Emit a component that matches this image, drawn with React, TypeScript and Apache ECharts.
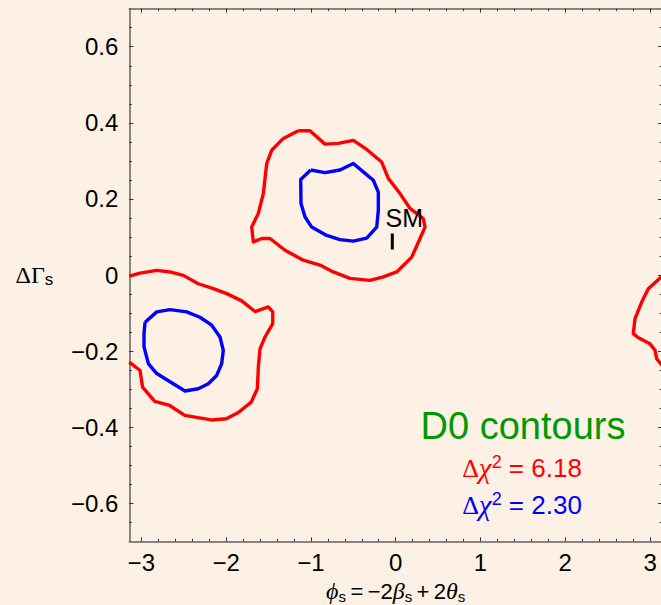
import React, { useEffect, useRef } from "react";
import * as echarts from "echarts";

// axis ranges and ticks
const xRange = [-Math.PI, Math.PI];
const yRange = [-0.7, 0.7];
const xMajorTicks = [-3, -2, -1, 0, 1, 2, 3];
const xMinorTicks = [
  -3, -2.8, -2.6, -2.4, -2.2, -2, -1.8, -1.6, -1.4, -1.2, -1, -0.8, -0.6, -0.4, -0.2, 0,
  0.2, 0.4, 0.6, 0.8, 1, 1.2, 1.4, 1.6, 1.8, 2, 2.2, 2.4, 2.6, 2.8, 3,
];
const yMajorTicks = [-0.6, -0.4, -0.2, 0, 0.2, 0.4, 0.6];
const yMinorTicks = [
  -0.65, -0.6, -0.55, -0.5, -0.45, -0.4, -0.35, -0.3, -0.25, -0.2, -0.15, -0.1, -0.05, 0,
  0.05, 0.1, 0.15, 0.2, 0.25, 0.3, 0.35, 0.4, 0.45, 0.5, 0.55, 0.6, 0.65,
];

// Δχ² = 6.18 contour around φs ≈ -0.7
const red618Center = [
  [-1.149, 0.379], [-1.011, 0.379], [-0.834, 0.344], [-0.677, 0.346], [-0.5, 0.354],
  [-0.342, 0.33], [-0.165, 0.297], [-0.087, 0.254], [0.051, 0.214], [0.169, 0.175],
  [0.325, 0.148], [0.346, 0.126], [0.287, 0.096], [0.189, 0.047], [0.012, 0.008],
  [-0.146, -0.005], [-0.303, -0.014], [-0.539, -0.009], [-0.736, 0.008], [-0.893, 0.026],
  [-1.09, 0.039], [-1.305, 0.065], [-1.482, 0.096], [-1.58, 0.096], [-1.679, 0.087],
  [-1.698, 0.126], [-1.62, 0.162], [-1.561, 0.214], [-1.521, 0.293], [-1.462, 0.328],
  [-1.325, 0.359], [-1.149, 0.379],
];
// Δχ² = 2.30 contour around φs ≈ -0.7
const blue230Center = [
  [-1.002, 0.276], [-0.834, 0.269], [-0.657, 0.276], [-0.5, 0.293], [-0.382, 0.271],
  [-0.264, 0.249], [-0.205, 0.218], [-0.205, 0.17], [-0.224, 0.126], [-0.342, 0.097],
  [-0.5, 0.089], [-0.657, 0.093], [-0.814, 0.104], [-0.991, 0.126], [-1.07, 0.153],
  [-1.117, 0.188], [-1.12, 0.251], [-1.002, 0.276],
];
// Δχ² = 6.18 contour near φs ≈ -2.4 (wraps to +π)
const red618Left = [
  [-3.1416, -0.003], [-3.015, 0.005], [-2.818, 0.012], [-2.662, 0.008], [-2.505, -0.001],
  [-2.328, -0.023], [-2.151, -0.036], [-1.993, -0.049], [-1.816, -0.068], [-1.659, -0.096],
  [-1.502, -0.084], [-1.45, -0.097], [-1.45, -0.128], [-1.541, -0.163], [-1.6, -0.194],
  [-1.62, -0.242], [-1.624, -0.264], [-1.632, -0.299], [-1.703, -0.334], [-1.86, -0.362],
  [-1.998, -0.378], [-2.175, -0.381], [-2.488, -0.369], [-2.665, -0.343], [-2.842, -0.332],
  [-2.985, -0.295], [-3.015, -0.251], [-3.1416, -0.229],
];
const red618Right = [
  [3.1416, -0.003], [2.979, -0.036], [2.901, -0.071], [2.822, -0.115], [2.802, -0.154],
  [2.861, -0.165], [2.999, -0.181], [3.058, -0.198], [3.078, -0.22], [3.1416, -0.238],
];
// Δχ² = 2.30 contour near φs ≈ -2.5
const blue230Left = [
  [-2.956, -0.124], [-2.818, -0.097], [-2.662, -0.091], [-2.465, -0.097], [-2.308, -0.111],
  [-2.17, -0.132], [-2.072, -0.163], [-2.033, -0.198], [-2.052, -0.233], [-2.111, -0.264],
  [-2.21, -0.286], [-2.328, -0.299], [-2.485, -0.305], [-2.623, -0.286], [-2.818, -0.259],
  [-2.917, -0.233], [-2.968, -0.189], [-2.968, -0.154], [-2.956, -0.124],
];
// Standard Model point
const smPhi = -0.04;
const smDeltaGamma = 0.088;
const smError = 0.021;

const legendTitle = "D0 contours";
const legendRed = "6.18";
const legendBlue = "2.30";

const RED = "#ff0000";
const BLUE = "#0000ff";
const GREEN = "#009a00";
const SANS = "'Liberation Sans', Arial, sans-serif";
const SERIF = "'Liberation Serif', 'Times New Roman', serif";

const fmt = (v: number) => String(Math.round(v * 100) / 100).replace("-", "\u2212");

const axisLine = { show: true, onZero: false, lineStyle: { color: "#5f5f5f", width: 1.5 } };
const tickLine = { color: "#333", width: 1 };

function xAxisDef(position: string, ticks: number[], len: number, withLabels: boolean, withLine: boolean, extra: any = {}) {
  return {
    type: "value",
    gridIndex: 0,
    position,
    min: xRange[0],
    max: xRange[1],
    axisLine: withLine ? axisLine : { show: false, onZero: false },
    axisTick: { show: true, inside: true, length: len, customValues: ticks, lineStyle: tickLine },
    axisLabel: withLabels
      ? { show: true, customValues: ticks, formatter: fmt, fontSize: 24, fontFamily: SANS, color: "#000", margin: 9 }
      : { show: false },
    splitLine: { show: false },
    minorTick: { show: false },
    ...extra,
  };
}
function yAxisDef(position: string, ticks: number[], len: number, withLabels: boolean, withLine: boolean, extra: any = {}) {
  return {
    type: "value",
    gridIndex: 0,
    position,
    min: yRange[0],
    max: yRange[1],
    axisLine: withLine ? axisLine : { show: false, onZero: false },
    axisTick: { show: true, inside: true, length: len, customValues: ticks, lineStyle: tickLine },
    axisLabel: withLabels
      ? { show: true, customValues: ticks, formatter: fmt, fontSize: 24, fontFamily: SANS, color: "#000", margin: 11 }
      : { show: false },
    splitLine: { show: false },
    minorTick: { show: false },
    ...extra,
  };
}

function contour(name: string, data: number[][], color: string) {
  return {
    name,
    type: "line",
    data,
    xAxisIndex: 0,
    yAxisIndex: 0,
    showSymbol: false,
    symbol: "none",
    clip: true,
    silent: true,
    lineStyle: { color, width: 3.4, join: "round" },
    z: 5,
  };
}

function chiRich(fill: string) {
  return {
    d: { fontFamily: SERIF, fontSize: 26, lineHeight: 30, fill, verticalAlign: "middle" },
    c: { fontFamily: SERIF, fontStyle: "italic", fontSize: 29, lineHeight: 30, fill, verticalAlign: "middle" },
    p: { fontFamily: SANS, fontSize: 18, lineHeight: 18, fill, verticalAlign: "top" },
    n: { fontFamily: SANS, fontSize: 26, lineHeight: 30, fill, verticalAlign: "middle" },
  };
}

export default function App() {
  const ref = useRef<HTMLDivElement>(null);
  useEffect(() => {
    if (!ref.current) return;
    const chart = echarts.init(ref.current, null, { renderer: "svg" });
    const option: any = {
      animation: false,
      backgroundColor: "#fdf1e5",
      grid: {
        left: 129.3,
        top: 8.7,
        width: 532.8,
        height: 532.6,
        containLabel: false,
        outerBoundsMode: "none",
      },
      xAxis: [
        xAxisDef("bottom", xMajorTicks, 4, true, true, {
          name: "{g|\u03d5}{s|s}{n|\u2009=\u2009\u22122}{g|\u03b2}{s|s}{n|\u2009+\u20092}{g|\u03b8}{s|s}",
          nameLocation: "middle",
          nameGap: 31,
          nameTextStyle: {
            color: "#000",
            rich: {
              g: { fontFamily: SERIF, fontStyle: "italic", fontSize: 24, lineHeight: 26, color: "#000", verticalAlign: "middle" },
              n: { fontFamily: SANS, fontSize: 22, lineHeight: 26, color: "#000", verticalAlign: "middle" },
              s: { fontFamily: SANS, fontSize: 15, lineHeight: 15, color: "#000", verticalAlign: "bottom" },
            },
          },
        }),
        xAxisDef("bottom", xMinorTicks, 2.5, false, false),
        xAxisDef("top", xMajorTicks, 4, false, true),
        xAxisDef("top", xMinorTicks, 2.5, false, false),
      ],
      yAxis: [
        yAxisDef("left", yMajorTicks, 4, true, true, {
          name: "{g|\u0394\u0393}{s|s}",
          nameLocation: "middle",
          nameRotate: 0,
          nameGap: 76,
          nameTextStyle: {
            color: "#000",
            rich: {
              g: { fontFamily: SERIF, fontSize: 24, lineHeight: 26, color: "#000", verticalAlign: "middle" },
              s: { fontFamily: SANS, fontSize: 17, lineHeight: 17, color: "#000", verticalAlign: "bottom" },
            },
          },
        }),
        yAxisDef("left", yMinorTicks, 2.5, false, false),
        yAxisDef("right", yMajorTicks, 4, false, true),
        yAxisDef("right", yMinorTicks, 2.5, false, false),
      ],
      series: [
        contour("Δχ² = 6.18", red618Center, RED),
        contour("Δχ² = 6.18 (left)", red618Left, RED),
        contour("Δχ² = 6.18 (right)", red618Right, RED),
        contour("Δχ² = 2.30", blue230Center, BLUE),
        contour("Δχ² = 2.30 (left)", blue230Left, BLUE),
        {
          name: "SM",
          type: "line",
          xAxisIndex: 0,
          yAxisIndex: 0,
          data: [
            [smPhi, smDeltaGamma - smError],
            [smPhi, smDeltaGamma + smError],
          ],
          showSymbol: false,
          symbol: "none",
          silent: true,
          lineStyle: { color: "#000", width: 3, cap: "butt" },
          z: 6,
        },
        {
          name: "SM label",
          type: "scatter",
          xAxisIndex: 0,
          yAxisIndex: 0,
          data: [[smPhi, smDeltaGamma + smError]],
          symbolSize: 0,
          silent: true,
          itemStyle: { opacity: 1 },
          label: {
            show: true,
            formatter: "SM",
            position: "top",
            distance: 3,
            offset: [12, 0],
            fontSize: 25,
            fontFamily: SANS,
            color: "#000",
            opacity: 1,
            textBorderWidth: 0,
          },
          z: 6,
        },
      ],
      graphic: [
        {
          type: "text",
          x: 523,
          y: 426,
          silent: true,
          style: {
            text: legendTitle,
            fill: GREEN,
            font: `38px ${SANS}`,
            align: "center",
            verticalAlign: "middle",
          },
        },
        {
          type: "text",
          x: 522,
          y: 468,
          silent: true,
          style: {
            text: `{d|\u0394}{c|\u03c7}{p|2}{n| = ${legendRed}}`,
            rich: chiRich(RED),
            fill: RED,
            align: "center",
            verticalAlign: "middle",
          },
        },
        {
          type: "text",
          x: 522,
          y: 505,
          silent: true,
          style: {
            text: `{d|\u0394}{c|\u03c7}{p|2}{n| = ${legendBlue}}`,
            rich: chiRich(BLUE),
            fill: BLUE,
            align: "center",
            verticalAlign: "middle",
          },
        },
      ],
    };
    chart.setOption(option);
    return () => chart.dispose();
  }, []);
  return (
    <div
      ref={ref}
      style={{ position: "fixed", left: 0, top: 0, width: 661, height: 605 }}
    />
  );
}
